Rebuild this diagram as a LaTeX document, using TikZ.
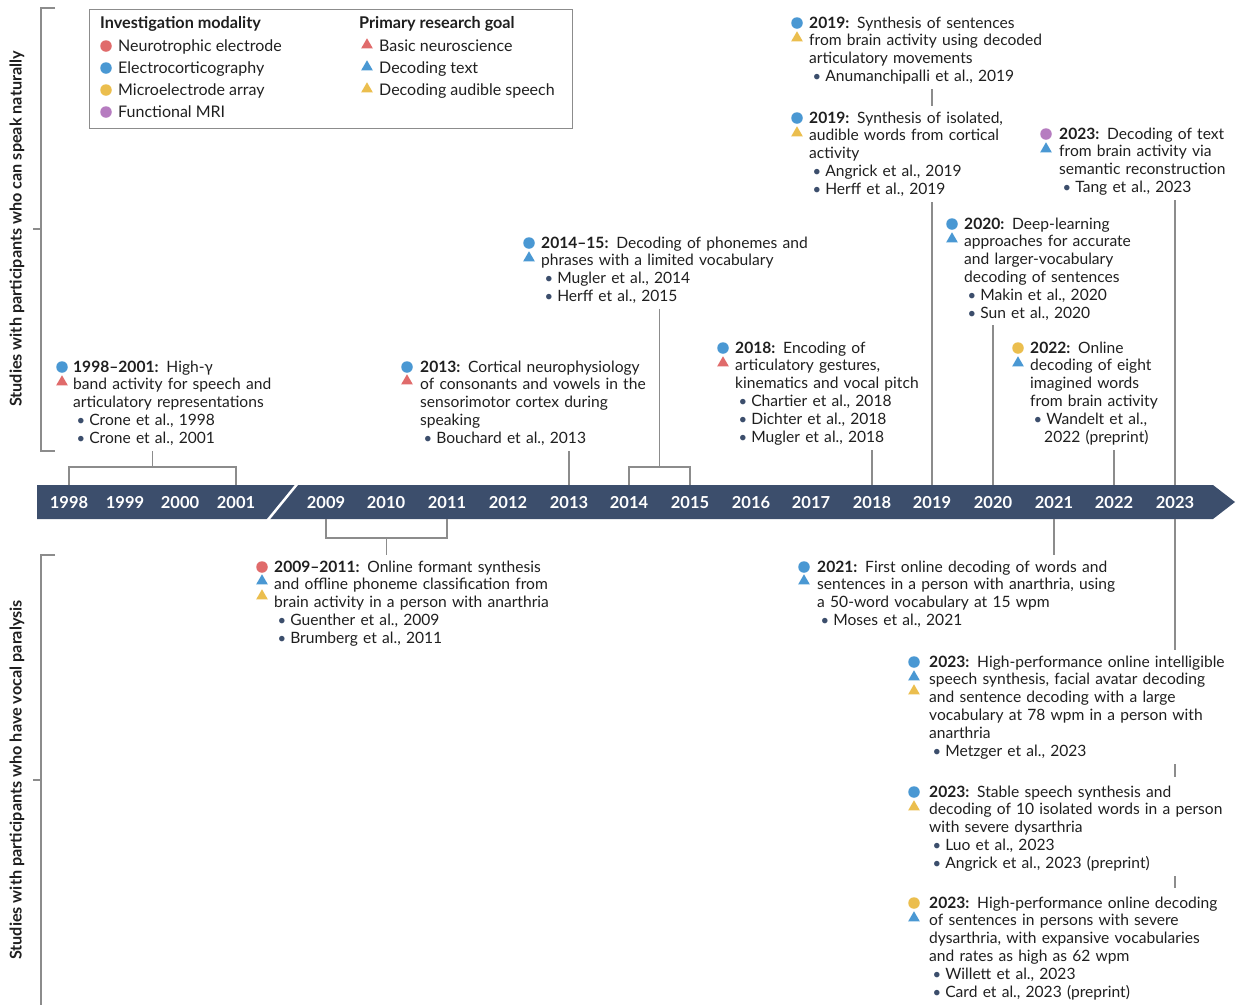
\documentclass[tikz,border=0pt]{standalone}
\usepackage{fontspec}
\usepackage{graphicx}
\setmainfont{Lato}
\usetikzlibrary{shapes.geometric,calc}

\definecolor{neurored}{HTML}{E06B6B}
\definecolor{ecogblue}{HTML}{4A98D3}
\definecolor{meayellow}{HTML}{EBBE4E}
\definecolor{fmripurple}{HTML}{B67CC0}
\definecolor{barblue}{HTML}{3C4E6C}
\definecolor{linegray}{HTML}{8C8C8C}
\definecolor{inkblack}{HTML}{1F1F1F}

\newcommand{\when}[1]{\textbf{#1:}}
\newcommand{\refitem}[1]{\hspace*{3.5pt}\textcolor{barblue}{\scalebox{0.95}{\textbullet}}\hspace{4pt}#1}

\begin{document}
\begin{tikzpicture}[x=1pt,y=-1pt,
    every node/.style={text=inkblack},
    circ/.style={circle, fill=#1, minimum size=11.5pt, inner sep=0pt},
    tri/.style={regular polygon, regular polygon sides=3, fill=#1, minimum size=13.5pt, inner sep=0pt},
    entry/.style={anchor=base west, inner sep=0pt, text width=340pt, align=left,
      font=\fontsize{15.6}{17.8}\selectfont},
    stem/.style={draw=linegray, line width=1.1pt},
    yearlbl/.style={anchor=base, inner sep=0pt, text=white, font=\fontsize{16.5}{18}\selectfont\bfseries},
    sidelbl/.style={rotate=90, font=\fontsize{16.2}{18}\selectfont\bfseries},
    legtitle/.style={anchor=base west, inner sep=0pt, font=\fontsize{16.2}{18}\selectfont\bfseries},
    legitem/.style={anchor=base west, inner sep=0pt, font=\fontsize{16}{18}\selectfont}]
  \useasboundingbox (0,0) rectangle (1245,1005);

  % Side brackets
  \node[sidelbl] (speak) at (17,229) {Studies with participants who can speak naturally};
  \node[sidelbl] (paral) at (17,780) {Studies with participants who have vocal paralysis};
  \draw[stem] (55,8) -- (41,8) -- (41,451) -- (55,451);
  \draw[stem] (33,229) -- (41,229);
  \draw[stem] (55,555) -- (41,555) -- (41,1005);
  \draw[stem] (33,780) -- (41,780);

  % Legend
  \draw[linegray, line width=1pt] (89,9) rectangle (572,128);
  \node[legtitle] (modt) at (100,28) {Investigation modality};
  \node[legtitle] (goalt) at (359,28) {Primary research goal};
  \foreach \col/\txt [count=\i] in {neurored/Neurotrophic electrode, ecogblue/Electrocorticography,
      meayellow/Microelectrode array, fmripurple/Functional MRI} {
    \node[circ=\col] (modc\i) at (106,24+22*\i) {};
    \node[legitem] (modl\i) at (118,29+22*\i) {\txt};
  }
  \foreach \col/\txt [count=\i] in {neurored/Basic neuroscience, ecogblue/Decoding text,
      meayellow/Decoding audible speech} {
    \node[tri=\col] (goalc\i) at (367,23+22*\i) {};
    \node[legitem] (goall\i) at (379,29+22*\i) {\txt};
  }

  % Timeline bar
  \fill[barblue] (37,485) -- (1213,485) -- (1235,502) -- (1213,519) -- (37,519) -- cycle;
  \draw[white, line width=2.5pt] (298,483) -- (267,521);
  \foreach \yr/\xx in {1998/69, 1999/125, 2000/180, 2001/236, 2009/326, 2010/386, 2011/447,
      2012/508, 2013/569, 2014/629, 2015/690, 2016/751, 2017/811, 2018/872, 2019/932,
      2020/993, 2021/1054, 2022/1114, 2023/1175}
    \node[yearlbl] (y\yr) at (\xx,508) {\yr};
  \coordinate (bartop) at (0,485);
  \coordinate (barbot) at (0,519);
  \coordinate (brkup) at (0,467);
  \coordinate (brkdn) at (0,538);

  % Entries above the bar
  \node[circ=ecogblue] (e98c) at (62,367) {};
  \node[tri=neurored] (e98t) at (62,382) {};
  \node[entry] (e98) at (73,372) {\when{1998–2001} High-γ\\ band activity for speech and\\
    articulatory representations\\ \refitem{Crone et al., 1998}\\ \refitem{Crone et al., 2001}};

  \node[circ=ecogblue] (e13c) at (407,367) {};
  \node[tri=neurored] (e13t) at (407,381) {};
  \node[entry] (e13) at (420,372) {\when{2013} Cortical neurophysiology\\ of consonants and vowels in the\\
    sensorimotor cortex during\\ speaking\\ \refitem{Bouchard et al., 2013}};

  \node[circ=ecogblue] (e1415c) at (529,243) {};
  \node[tri=ecogblue] (e1415t) at (529,258) {};
  \node[entry] (e1415) at (541,248) {\when{2014–15} Decoding of phonemes and\\
    phrases with a limited vocabulary\\ \refitem{Mugler et al., 2014}\\ \refitem{Herff et al., 2015}};

  \node[circ=ecogblue] (e18c) at (723,348) {};
  \node[tri=neurored] (e18t) at (723,363) {};
  \node[entry] (e18) at (735,353) {\when{2018} Encoding of\\ articulatory gestures,\\
    kinematics and vocal pitch\\ \refitem{Chartier et al., 2018}\\ \refitem{Dichter et al., 2018}\\
    \refitem{Mugler et al., 2018}};

  \node[circ=ecogblue] (e19ac) at (797,23) {};
  \node[tri=meayellow] (e19at) at (797,38) {};
  \node[entry] (e19a) at (809,28) {\when{2019} Synthesis of sentences\\ from brain activity using decoded\\
    articulatory movements\\ \refitem{Anumanchipalli et al., 2019}};

  \node[circ=ecogblue] (e19bc) at (797,118) {};
  \node[tri=meayellow] (e19bt) at (797,133) {};
  \node[entry] (e19b) at (809,123) {\when{2019} Synthesis of isolated,\\ audible words from cortical\\
    activity\\ \refitem{Angrick et al., 2019}\\ \refitem{Herff et al., 2019}};

  \node[circ=fmripurple] (e23fc) at (1046,134) {};
  \node[tri=ecogblue] (e23ft) at (1046,149) {};
  \node[entry] (e23f) at (1059,139) {\when{2023} Decoding of text\\ from brain activity via\\
    semantic reconstruction\\ \refitem{Tang et al., 2023}};

  \node[circ=ecogblue] (e20c) at (952,224) {};
  \node[tri=ecogblue] (e20t) at (952,239) {};
  \node[entry] (e20) at (964,229) {\when{2020} Deep-learning\\ approaches for accurate\\
    and larger-vocabulary\\ decoding of sentences\\ \refitem{Makin et al., 2020}\\ \refitem{Sun et al., 2020}};

  \node[circ=meayellow] (e22c) at (1018,348) {};
  \node[tri=ecogblue] (e22t) at (1018,363) {};
  \node[entry] (e22) at (1030,353) {\when{2022} Online\\ decoding of eight\\ imagined words\\
    from brain activity\\ \refitem{Wandelt et al.,}\\ \hspace*{14pt}2022 (preprint)};

  % Entries below the bar
  \node[circ=neurored] (e0911c) at (262,567) {};
  \node[tri=ecogblue] (e0911t) at (262,581) {};
  \node[tri=meayellow] (e0911u) at (262,596) {};
  \node[entry] (e0911) at (274,572) {\when{2009–2011} Online formant synthesis\\
    and offline phoneme classification from\\ brain activity in a person with anarthria\\
    \refitem{Guenther et al., 2009}\\ \refitem{Brumberg et al., 2011}};

  \node[circ=ecogblue] (e21c) at (804,567) {};
  \node[tri=ecogblue] (e21t) at (804,581) {};
  \node[entry] (e21) at (817,572) {\when{2021} First online decoding of words and\\
    sentences in a person with anarthria, using\\ a 50-word vocabulary at 15 wpm\\
    \refitem{Moses et al., 2021}};

  \node[circ=ecogblue] (e23ac) at (914,662) {};
  \node[tri=ecogblue] (e23at) at (914,677) {};
  \node[tri=meayellow] (e23au) at (914,691) {};
  \node[entry] (e23a) at (929,667) {\when{2023} High-performance online intelligible\\
    speech synthesis, facial avatar decoding\\ and sentence decoding with a large\\
    vocabulary at 78 wpm in a person with\\ anarthria\\ \refitem{Metzger et al., 2023}};

  \node[circ=ecogblue] (e23bc) at (914,792) {};
  \node[tri=meayellow] (e23bt) at (914,807) {};
  \node[entry] (e23b) at (929,797) {\when{2023} Stable speech synthesis and\\
    decoding of 10 isolated words in a person\\ with severe dysarthria\\
    \refitem{Luo et al., 2023}\\ \refitem{Angrick et al., 2023 (preprint)}};

  \node[circ=meayellow] (e23cc) at (914,903) {};
  \node[tri=ecogblue] (e23ct) at (914,918) {};
  \node[entry] (e23c) at (929,908) {\when{2023} High-performance online decoding\\
    of sentences in persons with severe\\ dysarthria, with expansive vocabularies\\
    and rates as high as 62 wpm\\ \refitem{Willett et al., 2023}\\ \refitem{Card et al., 2023 (preprint)}};

  % Stems up
  \coordinate (m98) at ($(y1998)!.5!(y2001)$);
  \coordinate (m1415) at ($(y2014)!.5!(y2015)$);
  \coordinate (m0911) at ($(y2009)!.5!(y2011)$);
  \draw[stem] (y1998 |- bartop) |- (y2001 |- brkup) -- (y2001 |- bartop);
  \draw[stem, shorten >=5pt] (m98 |- brkup) -- (e98.south -| m98);
  \draw[stem, shorten >=5pt] (y2013 |- bartop) -- (e13.south -| y2013);
  \draw[stem] (y2014 |- bartop) |- (y2015 |- brkup) -- (y2015 |- bartop);
  \draw[stem, shorten >=5pt] (m1415 |- brkup) -- (e1415.south -| m1415);
  \draw[stem, shorten >=5pt] (y2018 |- bartop) -- (e18.south -| y2018);
  \draw[stem, shorten >=5pt] (y2019 |- bartop) -- (e19b.south -| y2019);
  \draw[stem, shorten <=5pt, shorten >=5pt] (e19a.south -| y2019) -- (e19b.north -| y2019);
  \draw[stem, shorten >=5pt] (y2020 |- bartop) -- (e20.south -| y2020);
  \draw[stem, shorten >=5pt] (y2022 |- bartop) -- (e22.south -| y2022);
  \draw[stem, shorten >=5pt] (y2023 |- bartop) -- (e23f.south -| y2023);

  % Stems down
  \draw[stem] (y2009 |- barbot) |- (y2011 |- brkdn) -- (y2011 |- barbot);
  \draw[stem, shorten >=5pt] (m0911 |- brkdn) -- (e0911.north -| m0911);
  \draw[stem, shorten >=5pt] (y2021 |- barbot) -- (e21.north -| y2021);
  \draw[stem, shorten >=5pt] (y2023 |- barbot) -- (e23a.north -| y2023);
  \draw[stem, shorten <=5pt, shorten >=8pt] (e23a.south -| y2023) -- (e23b.north -| y2023);
  \draw[stem, shorten <=5pt, shorten >=8pt] (e23b.south -| y2023) -- (e23c.north -| y2023);
\end{tikzpicture}
\end{document}
